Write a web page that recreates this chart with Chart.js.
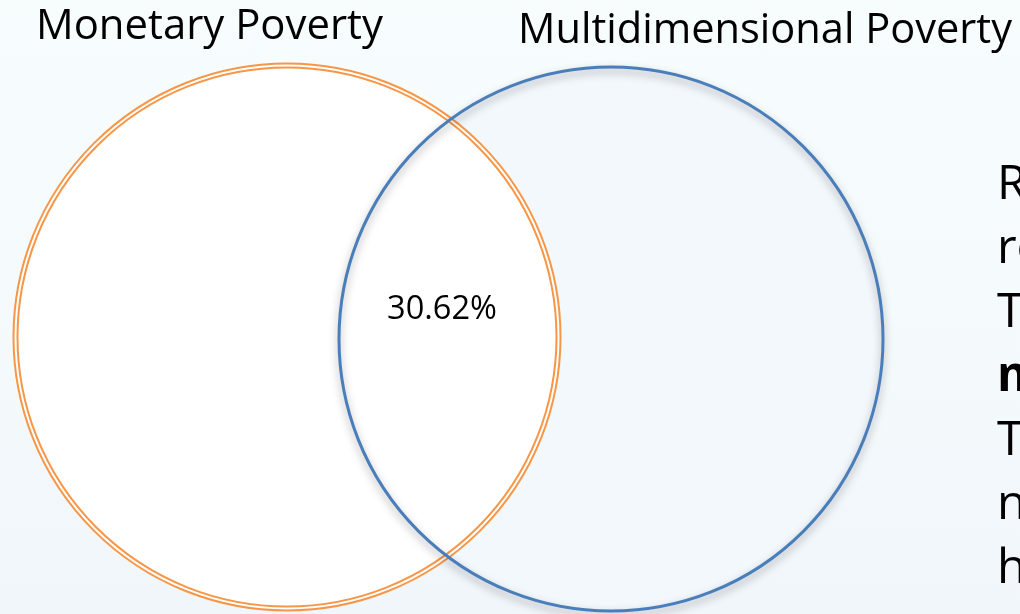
<!DOCTYPE html>
<html>
<head>
<meta charset="utf-8">
<script src="https://cdn.jsdelivr.net/npm/chart.js@4.4.1/dist/chart.umd.min.js"></script>
<style>
  html, body { margin: 0; padding: 0; }
  body {
    width: 1020px; height: 614px; overflow: hidden;
    background: linear-gradient(180deg, #f7fcfd 0%, #f4f9fc 60%, #f1f6fb 100%);
  }
  #wrap { position: relative; width: 1020px; height: 614px; }
</style>
</head>
<body>
<div id="wrap"><canvas id="myChart"></canvas></div>
<script>
// sets of the venn diagram (centre and radius in chart units)
const setLabels = ['Monetary Poverty', 'Multidimensional Poverty'];
const setX = [287, 611];
const setY = [337, 339];
const setR = [273, 272];
const overlapLabel = '30.62%';

// cut off text at the right edge of the slide
const sideLines = ['Re', 're', 'Th', 'm', 'Th', 'n', 'h'];
const sideBold = [false, false, false, true, false, false, false];

window.addEventListener('DOMContentLoaded', () => {
    const pxRadius = (chart, r) => {
        const s = chart.scales.x;
        return s.getPixelForValue(r) - s.getPixelForValue(0);
    };

    const point = (i, dr) => [{ x: setX[i], y: setY[i], r: setR[i] + dr }];
    const none = 'rgba(0,0,0,0)';

    // lower order is drawn on top
    const data = {
        datasets: [
            {
                label: setLabels[1] + ' line',
                data: point(1, 0),
                backgroundColor: none,
                borderColor: '#4a7ebb',
                borderWidth: 3,
                order: 0
            },
            {
                label: setLabels[0] + ' outer',
                data: point(0, 0.5),
                backgroundColor: none,
                borderColor: '#f79646',
                borderWidth: 2,
                order: 1
            },
            {
                label: setLabels[0] + ' inner',
                data: point(0, -3.5),
                backgroundColor: none,
                borderColor: '#f79646',
                borderWidth: 2,
                order: 2
            },
            {
                label: setLabels[0],
                data: point(0, 0),
                backgroundColor: '#ffffff',
                borderWidth: 0,
                order: 3
            },
            {
                label: setLabels[1],
                data: point(1, 0),
                backgroundColor: '#f3f8fc',
                borderWidth: 0,
                order: 4
            }
        ]
    };

    const shadowPlugin = {
        id: 'shadow',
        beforeDatasetDraw(chart, args) {
            if (args.index !== 0) return;
            const ctx = chart.ctx;
            ctx.save();
            ctx.shadowColor = 'rgba(0, 0, 0, 0.35)';
            ctx.shadowBlur = 8;
            ctx.shadowOffsetY = 4;
        },
        afterDatasetDraw(chart, args) {
            if (args.index !== 0) return;
            chart.ctx.restore();
        }
    };

    // fit text to a width
    const fitText = (ctx, text, weight, width) => {
        ctx.font = weight + ' 40px "Open Sans"';
        const w = ctx.measureText(text).width;
        const size = 40 * width / w;
        ctx.font = weight + ' ' + size.toFixed(2) + 'px "Open Sans"';
    };

    const labelPlugin = {
        id: 'labels',
        afterDraw(chart) {
            const ctx = chart.ctx;
            ctx.save();
            ctx.fillStyle = '#000000';
            ctx.textBaseline = 'alphabetic';
            ctx.textAlign = 'left';

            fitText(ctx, setLabels[0], 'normal', 347);
            ctx.fillText(setLabels[0], 36, 39);
            fitText(ctx, setLabels[1], 'normal', 494);
            ctx.fillText(setLabels[1], 518, 43);

            fitText(ctx, overlapLabel, 'normal', 110);
            ctx.textAlign = 'center';
            ctx.fillText(overlapLabel, 442, 319);

            ctx.textAlign = 'left';
            sideLines.forEach((t, i) => {
                ctx.font = (sideBold[i] ? 'bold' : 'normal') + ' 48px "Open Sans"';
                ctx.fillText(t, 997, 199 + i * 64);
            });
            ctx.restore();
        }
    };

    const config = {
        type: 'bubble',
        data: data,
        options: {
            responsive: false,
            animation: false,
            events: [],
            layout: { padding: 0, autoPadding: false },
            elements: {
                point: {
                    radius: (ctx) => pxRadius(ctx.chart, ctx.raw.r),
                    hoverRadius: 0
                }
            },
            scales: {
                x: { type: 'linear', min: 0, max: 1020, display: false },
                y: { type: 'linear', min: 0, max: 614, reverse: true, display: false }
            },
            plugins: {
                legend: { display: false },
                tooltip: { enabled: false }
            }
        },
        plugins: [shadowPlugin, labelPlugin]
    };

    const canvas = document.getElementById('myChart');
    canvas.width = 1020;
    canvas.height = 614;
    new Chart(canvas, config);
});
</script>
</body>
</html>
